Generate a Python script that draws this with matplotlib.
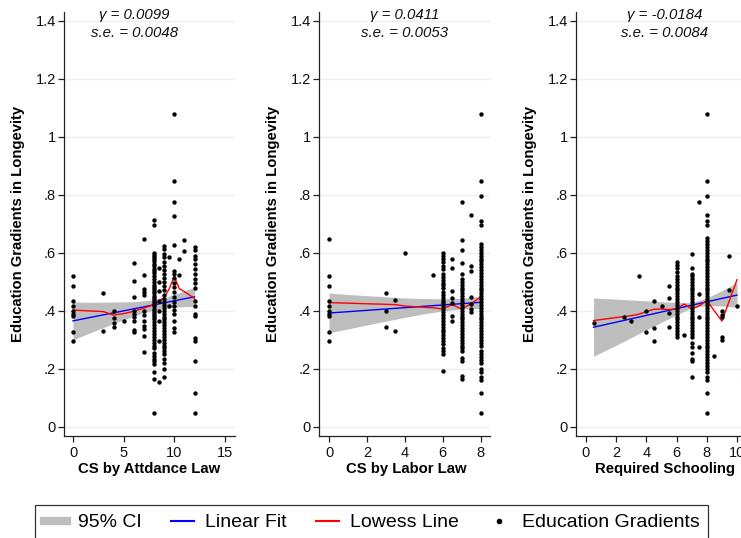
import matplotlib
matplotlib.use("Agg")
import matplotlib.pyplot as plt
from matplotlib.lines import Line2D
from matplotlib import font_manager

W, H = 741, 538

# ---------------- data ----------------
# Education gradients in longevity, grouped by value of each schooling law measure
attend_cols = {
    0: [0.518, 0.486, 0.433, 0.415, 0.398, 0.389, 0.382, 0.326, 0.297],
    3: [0.461, 0.329],
    4: [0.399, 0.375, 0.356, 0.343],
    5: [0.366],
    6: [0.566, 0.503, 0.449, 0.398, 0.389, 0.379, 0.366, 0.333, 0.327],
    7: [0.649, 0.523, 0.474, 0.464, 0.454, 0.398, 0.385, 0.366, 0.347, 0.337, 0.314, 0.257],
    8: [0.713, 0.697, 0.600, 0.592, 0.585, 0.577, 0.570, 0.562, 0.553, 0.545, 0.537,
        0.530, 0.520, 0.510, 0.500, 0.490, 0.483, 0.475, 0.468, 0.460, 0.452, 0.445,
        0.438, 0.430, 0.422, 0.415, 0.407, 0.400, 0.392, 0.385, 0.377, 0.370, 0.360,
        0.350, 0.340, 0.330, 0.320, 0.310, 0.300, 0.290, 0.280, 0.270, 0.255, 0.245,
        0.235, 0.225, 0.215, 0.190, 0.165, 0.047],
    8.5: [0.549, 0.498, 0.469, 0.434, 0.400, 0.366, 0.297, 0.155],
    9: [0.622, 0.613, 0.595, 0.584, 0.567, 0.553, 0.540, 0.527, 0.512, 0.498, 0.485,
        0.470, 0.455, 0.440, 0.430, 0.420, 0.410, 0.400, 0.390, 0.380, 0.370, 0.360,
        0.350, 0.340, 0.330, 0.320, 0.310, 0.300, 0.290, 0.280, 0.270, 0.260, 0.250,
        0.235, 0.220, 0.200, 0.172],
    9.5: [0.584, 0.415],
    10: [1.077, 0.848, 0.774, 0.728, 0.628, 0.538, 0.526, 0.514, 0.497, 0.482, 0.463,
         0.446, 0.431, 0.417, 0.402, 0.388, 0.365, 0.342, 0.328],
    10.5: [0.577, 0.524],
    11: [0.644, 0.607],
    12: [0.618, 0.610, 0.590, 0.580, 0.562, 0.545, 0.527, 0.510, 0.497, 0.480, 0.434,
         0.417, 0.390, 0.383, 0.306, 0.297, 0.225, 0.115, 0.046],
}

labor_cols = {
    0: [0.649, 0.518, 0.486, 0.433, 0.415, 0.398, 0.389, 0.382, 0.326, 0.297],
    3: [0.461, 0.398, 0.344],
    3.5: [0.438, 0.329],
    4: [0.600],
    5.5: [0.523],
    6: [0.598, 0.588, 0.577, 0.567, 0.555, 0.544, 0.527, 0.517, 0.507, 0.497, 0.487,
        0.477, 0.466, 0.455, 0.445, 0.435, 0.425, 0.415, 0.405, 0.395, 0.385, 0.375,
        0.365, 0.355, 0.345, 0.335, 0.325, 0.315, 0.305, 0.295, 0.285, 0.270, 0.260,
        0.250, 0.191],
    6.5: [0.577, 0.547, 0.467, 0.443, 0.425, 0.383, 0.366],
    7: [0.774, 0.644, 0.608, 0.563, 0.526, 0.510, 0.500, 0.490, 0.480, 0.470, 0.460,
        0.450, 0.440, 0.430, 0.420, 0.410, 0.400, 0.390, 0.380, 0.370, 0.360, 0.350,
        0.340, 0.330, 0.320, 0.310, 0.300, 0.290, 0.280, 0.270, 0.260, 0.237, 0.227,
        0.176, 0.164],
    7.5: [0.729, 0.555, 0.538, 0.446, 0.423, 0.406, 0.395],
    8: [1.077, 0.848, 0.797, 0.710, 0.697, 0.630, 0.620, 0.610, 0.600, 0.590, 0.580,
        0.570, 0.560, 0.550, 0.540, 0.530, 0.520, 0.510, 0.500, 0.490, 0.480, 0.470,
        0.460, 0.450, 0.440, 0.430, 0.420, 0.410, 0.400, 0.390, 0.380, 0.370, 0.360,
        0.350, 0.340, 0.330, 0.320, 0.310, 0.300, 0.290, 0.280, 0.260, 0.250, 0.240,
        0.230, 0.220, 0.200, 0.190, 0.170, 0.160, 0.115, 0.046],
}

school_cols = {
    0.5: [0.356],
    2.5: [0.379],
    3: [0.366],
    3.5: [0.518],
    4: [0.398, 0.325],
    4.5: [0.432, 0.339, 0.297],
    5: [0.415],
    5.5: [0.486, 0.443, 0.393, 0.344],
    6: [0.567, 0.558, 0.548, 0.535, 0.520, 0.510, 0.500, 0.490, 0.480, 0.470, 0.460,
        0.450, 0.440, 0.430, 0.420, 0.410, 0.400, 0.390, 0.380, 0.370, 0.360, 0.350,
        0.340, 0.330, 0.320, 0.310],
    6.5: [0.316],
    7: [0.597, 0.549, 0.526, 0.520, 0.510, 0.500, 0.490, 0.480, 0.470, 0.460, 0.450,
        0.440, 0.430, 0.420, 0.410, 0.400, 0.390, 0.380, 0.370, 0.360, 0.350, 0.340,
        0.330, 0.320, 0.310, 0.290, 0.275, 0.255, 0.235, 0.225, 0.172],
    7.5: [0.774, 0.457, 0.379, 0.274],
    8: [1.077, 0.848, 0.797, 0.729, 0.710, 0.697, 0.650, 0.640, 0.630, 0.620, 0.610,
        0.600, 0.590, 0.580, 0.570, 0.560, 0.550, 0.540, 0.530, 0.520, 0.510, 0.500,
        0.490, 0.480, 0.470, 0.460, 0.450, 0.440, 0.430, 0.420, 0.410, 0.400, 0.390,
        0.380, 0.370, 0.360, 0.350, 0.340, 0.330, 0.320, 0.310, 0.300, 0.290, 0.280,
        0.270, 0.260, 0.250, 0.240, 0.230, 0.220, 0.210, 0.200, 0.190, 0.170, 0.160,
        0.115, 0.046],
    8.5: [0.243],
    9: [0.400, 0.385, 0.379, 0.308, 0.299],
    9.5: [0.587, 0.471],
    10: [0.415],
}

# Linear fit and its 95% confidence band
attend_fit_x = [0, 12]
attend_fit_y = [0.365, 0.448]
attend_ci_x = [0, 2, 4, 6, 7, 8, 9, 10, 11, 12]
attend_ci_lo = [0.300, 0.328, 0.356, 0.381, 0.393, 0.402, 0.408, 0.412, 0.414, 0.415]
attend_ci_hi = [0.430, 0.429, 0.430, 0.431, 0.434, 0.438, 0.445, 0.456, 0.468, 0.481]

labor_fit_x = [0, 8]
labor_fit_y = [0.392, 0.429]
labor_ci_x = [0, 1, 2, 3, 4, 5, 6, 7, 8]
labor_ci_lo = [0.324, 0.337, 0.351, 0.364, 0.377, 0.389, 0.399, 0.406, 0.408]
labor_ci_hi = [0.461, 0.456, 0.452, 0.448, 0.444, 0.442, 0.441, 0.443, 0.450]

school_fit_x = [0.5, 10]
school_fit_y = [0.343, 0.454]
school_ci_x = [0.5, 2, 4, 5, 6, 7, 8, 9, 10]
school_ci_lo = [0.243, 0.281, 0.334, 0.360, 0.386, 0.410, 0.418, 0.416, 0.412]
school_ci_hi = [0.444, 0.440, 0.434, 0.431, 0.428, 0.428, 0.444, 0.469, 0.497]

# Lowess smoother
attend_lowess_x = [0, 3, 4, 5, 6, 7, 8, 9, 9.5, 10, 10.5, 11, 12]
attend_lowess_y = [0.402, 0.397, 0.385, 0.390, 0.398, 0.409, 0.421, 0.446, 0.475,
                   0.518, 0.476, 0.466, 0.442]
labor_lowess_x = [0, 3, 3.5, 4, 5.5, 6, 6.5, 7, 7.5, 8]
labor_lowess_y = [0.428, 0.422, 0.421, 0.416, 0.410, 0.406, 0.421, 0.406, 0.424, 0.447]
school_lowess_x = [0.5, 2.5, 3, 3.5, 4, 4.5, 5, 5.5, 6, 6.5, 7, 7.5, 8, 9, 10]
school_lowess_y = [0.366, 0.380, 0.383, 0.388, 0.397, 0.405, 0.406, 0.404, 0.406,
                   0.423, 0.406, 0.417, 0.435, 0.364, 0.507]

panel_titles = ["CS by Attdance Law", "CS by Labor Law", "Required Schooling"]
gamma_text = ["\u03b3 = 0.0099", "\u03b3 = 0.0411", "\u03b3 = -0.0184"]
se_text = ["s.e. = 0.0048", "s.e. = 0.0053", "s.e. = 0.0084"]
x_ticks = [[0, 5, 10, 15], [0, 2, 4, 6, 8], [0, 2, 4, 6, 8, 10]]
y_ticks = [0, 0.2, 0.4, 0.6, 0.8, 1.0, 1.2, 1.4]
y_ticklabels = ["0", ".2", ".4", ".6", ".8", "1", "1.2", "1.4"]
legend_labels = ["95% CI", "Linear Fit", "Lowess Line", "Education Gradients"]

# ---------------- style ----------------
names = {f.name for f in font_manager.fontManager.ttflist}
SANS = "Liberation Sans" if "Liberation Sans" in names else "DejaVu Sans"
plt.rcParams["font.family"] = [SANS, "DejaVu Sans"]

CI_COLOR = "#bebebe"
FIT_COLOR = "#0000ff"
LOWESS_COLOR = "#ff0000"
GRID_COLOR = "#e8f0f2"

fig = plt.figure(figsize=(W / 100, H / 100), dpi=100)


def px_axes(left, top, right, bottom):
    return fig.add_axes([left / W, 1 - bottom / H, (right - left) / W, (bottom - top) / H])


panels = [
    dict(cols=attend_cols, fit=(attend_fit_x, attend_fit_y),
         ci=(attend_ci_x, attend_ci_lo, attend_ci_hi),
         low=(attend_lowess_x, attend_lowess_y), left=64, xlim=(-0.89, 16.0),
         note_x=0.41, xlab_x=0.50),
    dict(cols=labor_cols, fit=(labor_fit_x, labor_fit_y),
         ci=(labor_ci_x, labor_ci_lo, labor_ci_hi),
         low=(labor_lowess_x, labor_lowess_y), left=319, xlim=(-0.53, 8.5),
         note_x=0.50, xlab_x=0.51),
    dict(cols=school_cols, fit=(school_fit_x, school_fit_y),
         ci=(school_ci_x, school_ci_lo, school_ci_hi),
         low=(school_lowess_x, school_lowess_y), left=576, xlim=(-0.66, 10.66),
         note_x=0.52, xlab_x=0.52),
]

for i, p in enumerate(panels):
    ax = px_axes(p["left"], 12, p["left"] + 171, 436)
    ax.set_xlim(*p["xlim"])
    ax.set_ylim(-0.032, 1.430)

    cx, lo, hi = p["ci"]
    ax.fill_between(cx, lo, hi, color=CI_COLOR, linewidth=0, zorder=2)
    ax.plot(*p["fit"], color=FIT_COLOR, lw=1.0, zorder=3)
    ax.plot(*p["low"], color=LOWESS_COLOR, lw=1.0, zorder=3)

    xs, ys = [], []
    for xv, yl in p["cols"].items():
        xs.extend([xv] * len(yl))
        ys.extend(yl)
    ax.scatter(xs, ys, s=10, color="black", linewidths=0, zorder=4)

    ax.set_yticks(y_ticks)
    ax.set_yticklabels(y_ticklabels)
    ax.set_xticks(x_ticks[i])
    ax.grid(axis="y", color=GRID_COLOR, linewidth=1.0, zorder=0)
    ax.set_axisbelow(True)
    for s in ("top", "right"):
        ax.spines[s].set_visible(False)
    for s in ("left", "bottom"):
        ax.spines[s].set_linewidth(0.9)
        ax.spines[s].set_color("#222222")
    ax.tick_params(axis="both", length=4, width=0.9, labelsize=10.5, color="#222222",
                   labelcolor="#111111")
    ax.tick_params(axis="y", pad=2)
    ax.tick_params(axis="x", pad=3)

    ax.set_ylabel("Education Gradients in Longevity", fontsize=10.7, fontweight="bold")
    ax.yaxis.set_label_coords(-0.23, 0.5)
    ax.set_xlabel(panel_titles[i], fontsize=10.7, fontweight="bold")
    ax.xaxis.set_label_coords(p["xlab_x"], -0.062)

    ax.text(p["note_x"], 0.993, gamma_text[i], transform=ax.transAxes, ha="center",
            va="center", fontsize=10.8, fontstyle="italic", color="#111111")
    ax.text(p["note_x"], 0.950, se_text[i], transform=ax.transAxes, ha="center",
            va="center", fontsize=10.8, fontstyle="italic", color="#111111")

handles = [
    Line2D([], [], color=CI_COLOR, lw=6),
    Line2D([], [], color=FIT_COLOR, lw=1.5),
    Line2D([], [], color=LOWESS_COLOR, lw=1.5),
    Line2D([], [], color="black", marker="o", linestyle="none", markersize=3),
]
leg = fig.legend(handles, legend_labels, loc="upper left",
                 bbox_to_anchor=(35 / W, 1 - 505 / H), ncol=4, frameon=True,
                 fancybox=False, edgecolor="black", fontsize=14,
                 handlelength=1.2, handletextpad=0.55, columnspacing=1.5,
                 borderpad=0.45, borderaxespad=0)
leg.get_frame().set_linewidth(0.9)

fig.savefig("out.png", dpi=100)
